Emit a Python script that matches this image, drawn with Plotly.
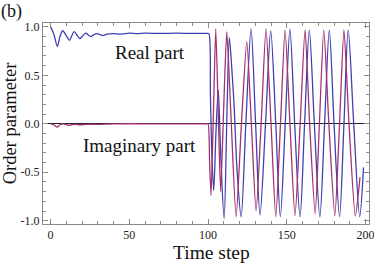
import plotly.graph_objects as go

# Real part (blue): time, value
real_t = [0, 2, 4.3, 6, 7.7, 10, 12, 13.5, 15, 17, 18.7, 20.5, 22.3, 24, 25.7, 27.5, 29.5, 31.5, 33,
          36, 40, 45, 50, 55, 60, 70, 80, 90, 99.5, 100.5,
          101.5, 102.5, 103.6, 105, 106.5, 108, 110.2, 112, 113.5, 115, 116.5, 118.5, 121, 124, 127.3,
          130.2, 133, 136.5, 139.8, 143, 145.9, 149, 152, 155, 158.4, 161.3, 164.3, 167.5, 171, 174,
          177, 180, 183.5, 186.3, 189, 192.5, 196.3, 198.7]
real_v = [1.0, 0.93, 0.80, 0.90, 0.96, 0.91, 0.86, 0.91, 0.95, 0.91, 0.88, 0.91, 0.935, 0.915, 0.90, 0.92, 0.93, 0.92, 0.91,
          0.925, 0.93, 0.925, 0.935, 0.93, 0.935, 0.932, 0.935, 0.933, 0.933, 0.93,
          0.3, -0.35, -0.69, -0.1, 0.35, -0.3, -0.98, 0.1, 0.89, 0.59, 0.2, -0.5, -0.96, 0.0, 0.98,
          0.0, -0.94, 0.0, 0.96, 0.0, -0.96, 0.0, 0.98, 0.0, -0.96, 0.0, 0.97, 0.0, -0.96, 0.0,
          0.97, 0.0, -0.96, 0.0, 0.97, 0.0, -0.96, -0.45]

# Imaginary part (purple)
imag_t = [0, 2, 4.3, 6, 8, 12, 15, 19, 23, 30, 40, 60, 80, 99, 100,
          101, 101.9, 103.4, 104.9, 106.5, 108, 110, 111.9, 114.5, 117.8, 121.2, 124.6, 127.5, 130.5,
          133.7, 136.8, 140, 143, 146, 148.9, 152, 155.2, 158.5, 161.6, 164.5, 168, 170.7, 173.5,
          176.7, 180.5, 183.5, 186.3, 189.5, 193.5, 196.5]
imag_v = [0.0, -0.01, -0.035, -0.01, 0.0, -0.015, -0.005, -0.01, -0.005, -0.005, 0.0, 0.0, 0.0, 0.0, 0.0,
          -0.4, -0.74, 0.1, 0.98, 0.1, -0.70, 0.2, 0.95, 0.1, -0.96, 0.0, 0.85, 0.0, -0.90,
          0.0, 0.98, 0.0, -0.96, 0.0, 0.97, 0.0, -0.95, 0.0, 0.97, 0.0, -0.93, 0.0, 0.97,
          0.0, -0.95, 0.0, 0.97, 0.0, -0.95, -0.55]

x_ticks = [0, 50, 100, 150, 200]
y_ticks = [-1.0, -0.5, 0.0, 0.5, 1.0]
y_tick_text = ["-1.0", "-0.5", "0.0", "0.5", "1.0"]

BLUE = "#4040b0"
PINK = "#a3326f"
FONT = "Liberation Serif"

fig = go.Figure()
fig.add_trace(go.Scatter(x=real_t, y=real_v, mode="lines",
                         line=dict(color=BLUE, width=1.3, shape="spline", smoothing=0.85)))
fig.add_trace(go.Scatter(x=imag_t, y=imag_v, mode="lines",
                         line=dict(color=PINK, width=1.3, shape="spline", smoothing=0.6)))

axis_common = dict(showgrid=False, showline=True, linecolor="#8a8a8a", linewidth=1,
                   mirror="ticks", ticks="inside", tickcolor="#8a8a8a", ticklen=5,
                   automargin=False, ticklabeloverflow="allow",
                   tickfont=dict(family=FONT, size=12, color="#222"))

fig.update_xaxes(range=[-4.8, 202.2], tickvals=x_ticks, zeroline=False,
                 minor=dict(dtick=10, ticks="inside", ticklen=3, tickcolor="#8a8a8a"),
                 **axis_common)
fig.update_yaxes(range=[-1.034, 1.04], tickvals=y_ticks, ticktext=y_tick_text,
                 zeroline=True, zerolinecolor="#222", zerolinewidth=1,
                 minor=dict(dtick=0.1, ticks="inside", ticklen=3, tickcolor="#8a8a8a"),
                 title=dict(text="Order parameter", font=dict(family=FONT, size=18.5, color="#111"), standoff=1),
                 **axis_common)

fig.add_annotation(x=0.518, y=-0.142, xref="paper", yref="paper", text="Time step", showarrow=False,
                   yanchor="middle", font=dict(family=FONT, size=19.5, color="#111"))
fig.add_annotation(x=63, y=0.74, text="Real part", showarrow=False,
                   font=dict(family=FONT, size=19, color="#111"))
fig.add_annotation(x=56.5, y=-0.22, text="Imaginary part", showarrow=False,
                   font=dict(family=FONT, size=19, color="#111"))
fig.add_annotation(x=0.0, y=1.0, xref="paper", yref="paper", xanchor="left", yanchor="top",
                   text="(b)", showarrow=False, font=dict(family=FONT, size=18, color="#111"),
                   xshift=-44, yshift=24)

fig.update_layout(width=374, height=263, margin=dict(l=43, r=5, t=23, b=39),
                  showlegend=False, plot_bgcolor="white", paper_bgcolor="white")

fig.write_html("out.html", config={"displayModeBar": False},
               post_script="document.body.style.margin='0';document.body.style.overflow='hidden';")
